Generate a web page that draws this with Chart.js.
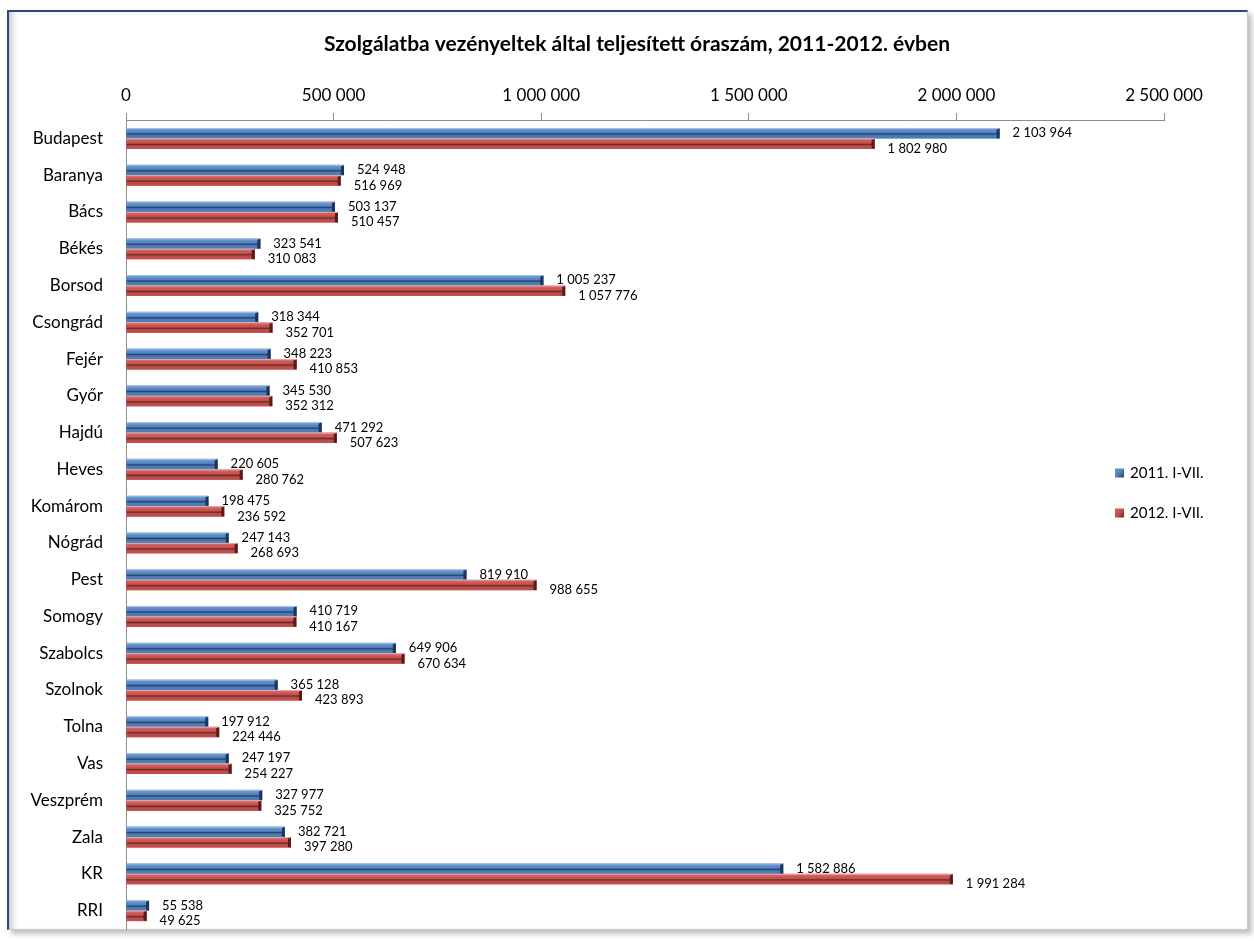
<!DOCTYPE html>
<html>
<head>
<meta charset="utf-8">
<title>Szolgálatba vezényeltek által teljesített óraszám</title>
<script src="https://cdn.jsdelivr.net/npm/chart.js@4.4.0/dist/chart.umd.min.js"></script>
<style>
    html, body { margin: 0; padding: 0; background: #fff; }
    #frame {
        position: absolute; left: 7px; top: 10px; width: 1238px; height: 917px;
        border-left: 2px solid #2b4780; border-top: 2px solid #2b4780;
        border-right: 1px solid #c9c9c9; border-bottom: 1px solid #c9c9c9;
        box-shadow: inset 7px 0 6px -4px rgba(110, 120, 150, 0.45), 4px 4px 5px rgba(0, 0, 0, 0.25);
        background: #fff;
    }
    #chart { position: absolute; left: 0; top: 0; }
</style>
</head>
<body>
<div id="frame"></div>
<canvas id="chart" width="1254" height="941"></canvas>
<script>
// Data
const categories = ['Budapest', 'Baranya', 'Bács', 'Békés', 'Borsod', 'Csongrád', 'Fejér', 'Győr',
    'Hajdú', 'Heves', 'Komárom', 'Nógrád', 'Pest', 'Somogy', 'Szabolcs', 'Szolnok', 'Tolna',
    'Vas', 'Veszprém', 'Zala', 'KR', 'RRI'];
const hours2011 = [2103964, 524948, 503137, 323541, 1005237, 318344, 348223, 345530, 471292,
    220605, 198475, 247143, 819910, 410719, 649906, 365128, 197912, 247197, 327977, 382721,
    1582886, 55538];
const hours2012 = [1802980, 516969, 510457, 310083, 1057776, 352701, 410853, 352312, 507623,
    280762, 236592, 268693, 988655, 410167, 670634, 423893, 224446, 254227, 325752, 397280,
    1991284, 49625];
const seriesNames = ['2011. I-VII.', '2012. I-VII.'];
const chartTitle = 'Szolgálatba vezényeltek által teljesített óraszám, 2011-2012. évben';
const axisMax = 2500000;
const axisStep = 500000;

// Look of the pseudo-3D bars (Excel style)
const shades = [
    { base: '#4f81bd', light: '#c3d5ee', mid: '#6a97d0', dark: '#23406a', low: '#4a78b1', cap: '#1d3557' },
    { base: '#c0504d', light: '#efc4c3', mid: '#d4625f', dark: '#6e2523', low: '#b94b48', cap: '#5a1c1a' }
];
const labelShift = [0, 5];
const FONT = 'Lato, "Open Sans", sans-serif';

function fmt(v) {
    return Math.round(v).toString().replace(/\B(?=(\d{3})+(?!\d))/g, ' ');
}

// draws the shaded bars, value labels and the legend
const bar3d = {
    id: 'bar3d',
    afterDatasetsDraw(chart) {
        const ctx = chart.ctx;
        ctx.save();
        chart.data.datasets.forEach((ds, i) => {
            const meta = chart.getDatasetMeta(i);
            const c = shades[i];
            meta.data.forEach((el, j) => {
                const p = el.getProps(['x', 'y', 'base', 'height'], true);
                const h = p.height;
                const top = p.y - h / 2;
                const left = Math.min(p.base, p.x);
                const w = Math.abs(p.x - p.base);

                const g = ctx.createLinearGradient(0, top, 0, top + h);
                g.addColorStop(0, c.light);
                g.addColorStop(0.15, c.mid);
                g.addColorStop(0.45, c.base);
                g.addColorStop(0.58, c.dark);
                g.addColorStop(0.7, c.low);
                g.addColorStop(1, c.base);
                ctx.fillStyle = g;
                ctx.fillRect(left, top, w, h);

                // dark end cap
                ctx.fillStyle = c.cap;
                ctx.beginPath();
                ctx.moveTo(p.x - 3, top + 1.5);
                ctx.lineTo(p.x, top + 0.5);
                ctx.lineTo(p.x, top + h);
                ctx.lineTo(p.x - 3, top + h - 0.5);
                ctx.closePath();
                ctx.fill();

                ctx.fillStyle = '#000';
                ctx.font = '13px ' + FONT;
                ctx.textAlign = 'left';
                ctx.textBaseline = 'middle';
                ctx.fillText(fmt(ds.data[j]), p.x + 13, p.y + labelShift[i]);
            });
        });

        // legend
        const legendX = 1115, legendY = [473, 513];
        chart.data.datasets.forEach((ds, i) => {
            const c = shades[i];
            const y = legendY[i];
            const g = ctx.createLinearGradient(legendX, y - 4.5, legendX + 9, y + 4.5);
            g.addColorStop(0, c.mid);
            g.addColorStop(0.5, c.base);
            g.addColorStop(1, c.dark);
            ctx.fillStyle = g;
            ctx.fillRect(legendX, y - 4.5, 9, 9);
            ctx.fillStyle = '#000';
            ctx.font = '15px ' + FONT;
            ctx.textAlign = 'left';
            ctx.textBaseline = 'middle';
            ctx.fillText(ds.label, legendX + 15, y);
        });
        ctx.restore();
    }
};

function draw() {
    const ctx = document.getElementById('chart').getContext('2d');
    new Chart(ctx, {
        type: 'bar',
        data: {
            labels: categories,
            datasets: [
                { label: seriesNames[0], data: hours2011, backgroundColor: shades[0].base },
                { label: seriesNames[1], data: hours2012, backgroundColor: shades[1].base }
            ]
        },
        options: {
            indexAxis: 'y',
            responsive: false,
            animation: false,
            layout: { padding: { left: 20, right: 0, top: 0, bottom: 12 } },
            datasets: { bar: { categoryPercentage: 0.57, barPercentage: 1 } },
            plugins: {
                legend: { display: false },
                tooltip: { enabled: false },
                title: {
                    display: true,
                    text: chartTitle,
                    color: '#000',
                    font: { family: FONT, size: 21, weight: 'bold' },
                    padding: { top: 31.4, bottom: 0 }
                }
            },
            scales: {
                x: {
                    position: 'top',
                    min: 0,
                    max: axisMax,
                    afterFit: (scale) => { scale.height = 63.4; },
                    ticks: {
                        stepSize: axisStep,
                        padding: 7,
                        color: '#000',
                        font: { family: FONT, size: 17 },
                        maxRotation: 0,
                        callback: (v) => fmt(v)
                    },
                    grid: { drawOnChartArea: false, tickLength: 7, color: '#8c8c8c' },
                    border: { color: '#8c8c8c' }
                },
                y: {
                    afterFit: (scale) => {
                        scale.width = 106;
                        // category offset already keeps labels inside, no extra room needed
                        scale.paddingTop = 0;
                        scale.paddingBottom = 0;
                    },
                    ticks: {
                        padding: 15,
                        color: '#000',
                        font: { family: FONT, size: 17 }
                    },
                    grid: { display: false },
                    border: { display: true, color: '#8c8c8c' }
                },
                // empty strip on the right, keeps room where the legend sits
                side: {
                    type: 'linear',
                    axis: 'y',
                    position: 'right',
                    afterFit: (scale) => {
                        scale.width = 90;
                        scale.paddingTop = 0;
                        scale.paddingBottom = 0;
                    },
                    ticks: { display: false },
                    grid: { display: false },
                    border: { display: false }
                }
            }
        },
        plugins: [bar3d]
    });
}

Promise.all([
    document.fonts.load('17px Lato'),
    document.fonts.load('bold 21px Lato')
]).then(draw, draw);
</script>
</body>
</html>
